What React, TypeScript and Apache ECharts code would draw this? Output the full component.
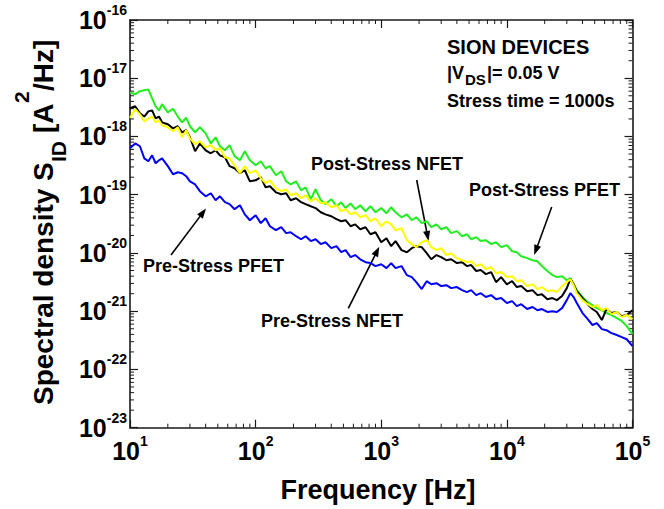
import React, { useEffect, useRef } from 'react';
import * as echarts from 'echarts';

const FONT = '"Liberation Sans", Arial, Helvetica, sans-serif';

// Frequency [Hz]
const freq = [
  10, 11, 12, 13, 14, 15, 16, 17, 18, 20, 22, 24, 26, 28, 30, 33, 36, 40, 44, 48, 52, 57, 62, 68, 75, 82, 90,
  100, 110, 120, 130, 145, 160, 175, 190, 210, 230, 250, 275, 300, 330, 360, 400, 440, 480, 520, 570, 620, 680, 750, 820, 900,
  1000, 1100, 1200, 1300, 1450, 1600, 1750, 1900, 2100, 2300, 2500, 2750, 3000, 3300, 3600, 4000, 4400, 4800, 5200, 5700, 6200, 6800, 7500, 8200, 9000,
  10000, 11000, 12000, 13000, 14500, 16000, 17500, 19000, 21000, 23000, 25000, 27500, 30000, 32000, 34000, 36000, 40000, 44000, 48000, 52000, 57000, 62000, 68000, 75000, 82000, 90000, 100000,
];

// Spectral density S_ID [A^2/Hz]
// Post-Stress PFET (green)
const postStressPfet = [
  5.7e-18, 5.3e-18, 6.0e-18, 6.2e-18, 6.4e-18, 4.5e-18, 3.3e-18, 2.8e-18, 3.6e-18, 2.6e-18, 3.0e-18, 2.2e-18, 1.75e-18, 2.1e-18, 1.5e-18, 1.18e-18, 1.44e-18, 1.13e-18, 7.6e-19, 9.7e-19, 6.8e-19, 5.8e-19, 7.1e-19, 4.6e-19, 3.9e-19, 5.6e-19, 3.9e-19,
  3.2e-19, 3.75e-19, 2.85e-19, 3.1e-19, 2.16e-19, 2.53e-19, 1.7e-19, 1.5e-19, 1.7e-19, 1.19e-19, 1.34e-19, 8.4e-20, 1.24e-19, 8.1e-20, 6.9e-20, 8.4e-20, 6.35e-20, 7.4e-20, 5.9e-20, 7.1e-20, 5.65e-20, 6.6e-20, 5.2e-20, 6.35e-20, 5.0e-20,
  5.9e-20, 4.8e-20, 6.1e-20, 5.0e-20, 4.1e-20, 4.6e-20, 3.65e-20, 4.1e-20, 3.25e-20, 3.5e-20, 2.77e-20, 3.1e-20, 2.56e-20, 2.77e-20, 2.19e-20, 2.37e-20, 1.94e-20, 2.1e-20, 1.72e-20, 1.87e-20, 1.6e-20, 1.66e-20, 1.42e-20, 1.53e-20, 1.26e-20,
  1.36e-20, 1.07e-20, 1.03e-20, 8.8e-21, 8.15e-21, 7.5e-21, 7.2e-21, 5.95e-21, 4.9e-21, 4.2e-21, 3.85e-21, 4.0e-21, 3.4e-21, 3.7e-21, 2.9e-21, 2.3e-21, 1.75e-21, 1.43e-21, 1.27e-21, 1.13e-21, 1.04e-21, 9.3e-22, 8.6e-22, 7.6e-22, 6.8e-22, 5.55e-22, 4.05e-22,
];

// Post-Stress NFET (yellow)
const postStressNfet = [
  2.1e-18, 2.93e-18, 2.4e-18, 1.82e-18, 2.05e-18, 2.2e-18, 1.75e-18, 1.9e-18, 1.56e-18, 1.44e-18, 1.23e-18, 1.44e-18, 9.7e-19, 1.28e-18, 9.3e-19, 7.35e-19, 8.3e-19, 6.5e-19, 7.1e-19, 5.8e-19, 6.3e-19, 4.4e-19, 4.2e-19, 3.2e-19, 2.34e-19, 3.1e-19, 2.34e-19,
  2.63e-19, 1.92e-19, 1.58e-19, 1.77e-19, 1.29e-19, 1.15e-19, 1.24e-19, 9.8e-20, 1.06e-19, 8.7e-20, 9.8e-20, 7.7e-20, 8.7e-20, 7.1e-20, 7.4e-20, 6.1e-20, 6.6e-20, 5.2e-20, 5.65e-20, 4.6e-20, 5.0e-20, 4.1e-20, 4.45e-20, 3.5e-20, 3.95e-20,
  2.88e-20, 3.5e-20, 3.1e-20, 2.46e-20, 2.66e-20, 1.66e-20, 1.42e-20, 1.26e-20, 1.53e-20, 1.66e-20, 1.26e-20, 1.12e-20, 1.21e-20, 9.2e-21, 9.9e-21, 8.15e-21, 7.5e-21, 6.95e-21, 7.2e-21, 5.95e-21, 6.4e-21, 5.3e-21, 5.7e-21, 4.5e-21, 4.7e-21,
  3.85e-21, 4.0e-21, 3.28e-21, 3.4e-21, 2.7e-21, 2.9e-21, 2.4e-21, 2.6e-21, 2.21e-21, 2.3e-21, 2.13e-21, 2.7e-21, 3.15e-21, 3.55e-21, 2.8e-21, 2.04e-21, 1.55e-21, 1.32e-21, 1.18e-21, 1.27e-21, 1.04e-21, 1.13e-21, 8.9e-22, 9.7e-22, 7.9e-22, 8.6e-22, 7.3e-22,
];

// Pre-Stress NFET (black)
const preStressNfet = [
  3.05e-18, 3.3e-18, 2.5e-18, 2.2e-18, 2.7e-18, 2.8e-18, 2.05e-18, 2.2e-18, 1.75e-18, 1.62e-18, 1.38e-18, 1.5e-18, 1.18e-18, 1.28e-18, 9.7e-19, 5.6e-19, 7.6e-19, 5.8e-19, 5.15e-19, 5.8e-19, 4.75e-19, 4.4e-19, 3.1e-19, 2.85e-19, 2.34e-19, 2.63e-19, 1.7e-19,
  1.77e-19, 2.0e-19, 1.34e-19, 1.4e-19, 1.1e-19, 1.02e-19, 1.06e-19, 8.05e-20, 8.7e-20, 7.45e-20, 6.9e-20, 6.35e-20, 5.9e-20, 5.0e-20, 4.6e-20, 4.27e-20, 3.8e-20, 3.5e-20, 3.65e-20, 2.88e-20, 3.1e-20, 2.56e-20, 2.77e-20, 2.1e-20, 2.27e-20,
  1.53e-20, 1.79e-20, 1.31e-20, 1.6e-20, 1.12e-20, 1.03e-20, 1.21e-20, 1.31e-20, 1.26e-20, 9.9e-21, 7.8e-21, 9.2e-21, 8.5e-21, 7.5e-21, 7.8e-21, 6.7e-21, 6.95e-21, 5.95e-21, 6.2e-21, 4.9e-21, 5.1e-21, 4.33e-21, 4.7e-21, 3.15e-21, 3.85e-21,
  2.9e-21, 3.28e-21, 2.6e-21, 2.7e-21, 2.21e-21, 2.3e-21, 1.89e-21, 1.96e-21, 1.61e-21, 1.68e-21, 1.55e-21, 1.82e-21, 2.49e-21, 3.55e-21, 2.9e-21, 2.21e-21, 1.68e-21, 1.32e-21, 1.09e-21, 9.7e-22, 7.05e-22, 1.09e-21, 9.3e-22, 9.7e-22, 8.2e-22, 8.6e-22, 1.04e-21,
];

// Pre-Stress PFET (blue)
const preStressPfet = [
  6.3e-19, 7.6e-19, 6.8e-19, 4.2e-19, 3.75e-19, 4.75e-19, 3.47e-19, 3.9e-19, 4.2e-19, 3.1e-19, 2.25e-19, 2.43e-19, 2.34e-19, 2.08e-19, 1.7e-19, 1.5e-19, 1.15e-19, 9.4e-20, 1.06e-19, 8.05e-20, 9.4e-20, 7.45e-20, 6.9e-20, 5.65e-20, 6.6e-20, 4.6e-20, 3.65e-20,
  4.45e-20, 3.25e-20, 3.95e-20, 2.88e-20, 2.46e-20, 2.77e-20, 2.19e-20, 2.27e-20, 1.94e-20, 1.72e-20, 1.94e-20, 1.6e-20, 1.72e-20, 1.42e-20, 1.53e-20, 1.21e-20, 1.31e-20, 1.03e-20, 1.12e-20, 8.5e-21, 9.2e-21, 7.8e-21, 6.95e-21, 6.7e-21, 5.95e-21,
  6.4e-21, 5.5e-21, 6.7e-21, 5.5e-21, 5.95e-21, 4.16e-21, 3.85e-21, 3.15e-21, 2.4e-21, 3.28e-21, 2.9e-21, 3.03e-21, 2.7e-21, 2.8e-21, 2.49e-21, 2.6e-21, 2.3e-21, 2.13e-21, 2.3e-21, 1.89e-21, 2.04e-21, 1.75e-21, 1.89e-21, 1.61e-21, 1.68e-21,
  1.38e-21, 1.49e-21, 1.22e-21, 1.32e-21, 1.09e-21, 1.18e-21, 1.04e-21, 1.09e-21, 9.7e-22, 1.0e-21, 9.7e-22, 1.13e-21, 1.55e-21, 2.04e-21, 1.75e-21, 1.38e-21, 9.3e-22, 7.3e-22, 5.8e-22, 6.25e-22, 4.93e-22, 4.73e-22, 4.2e-22, 3.9e-22, 3.6e-22, 3.3e-22, 2.52e-22,
];

// ECharts' log axis fails with very small explicit min/max, so the y axis runs in units of 1e-23 A^2/Hz
const Y_UNIT_EXP = -23;
const Y_UNIT = 1e-23;
const X_MIN = 10;
const X_MAX = 1e5;
const Y_MIN = 1; // = 1e-23 A^2/Hz
const Y_MAX = 1e7; // = 1e-16 A^2/Hz
const xDecades = [10, 100, 1000, 10000];
const yDecades = [1, 10, 100, 1000, 10000, 100000, 1000000];
const minorMultipliers = [2, 3, 4, 5, 6, 7, 8, 9];

const annotations = [
  { text: 'Post-Stress NFET', x: 311, y: 164 },
  { text: 'Post-Stress PFET', x: 469, y: 190 },
  { text: 'Pre-Stress PFET', x: 143, y: 266 },
  { text: 'Pre-Stress NFET', x: 261, y: 321 },
];

// arrow: [startX, startY, tipX, tipY]
const arrows = [
  [416.7, 180, 428.5, 241],
  [551.7, 207, 534.2, 255],
  [171, 255, 206, 208.5],
  [348.3, 308.3, 379.3, 246.7],
];

const AXIS_COLOR = '#1a1a1a';

function buildArrow(a: number[]) {
  const [sx, sy, tx, ty] = a;
  const dx = tx - sx;
  const dy = ty - sy;
  const len = Math.sqrt(dx * dx + dy * dy);
  const ux = dx / len;
  const uy = dy / len;
  const headL = 10;
  const headW = 3.6;
  const bx = tx - ux * headL;
  const by = ty - uy * headL;
  const px = -uy * headW;
  const py = ux * headW;
  return [
    {
      type: 'line',
      shape: { x1: sx, y1: sy, x2: bx + ux * 2, y2: by + uy * 2 },
      style: { stroke: '#000', lineWidth: 1.6 },
      silent: true,
    },
    {
      type: 'polygon',
      shape: { points: [[tx, ty], [bx + px, by + py], [bx - px, by - py]] },
      style: { fill: '#000' },
      silent: true,
    },
  ];
}

function textEl(text: string, x: number, y: number, size: number, extra: any = {}) {
  return {
    type: 'text',
    x,
    y,
    silent: true,
    style: {
      text,
      fontSize: size,
      fontWeight: 'bold',
      fontFamily: FONT,
      fill: '#000',
      align: extra.align || 'left',
      textAlign: extra.align || 'left',
      verticalAlign: 'middle',
      textVerticalAlign: 'middle',
    },
  };
}

export default function App() {
  const ref = useRef<HTMLDivElement>(null);

  useEffect(() => {
    if (!ref.current) return;
    const chart = echarts.init(ref.current, null, { renderer: 'svg' });

    const xMinor: number[][] = [];
    xDecades.forEach((d) => minorMultipliers.forEach((m) => xMinor.push([d * m, Y_MIN])));
    const yMinor: number[][] = [];
    yDecades.forEach((d) => minorMultipliers.forEach((m) => yMinor.push([X_MIN, d * m])));

    const richLabel = {
      b: { fontSize: 25, fontWeight: 'bold', fontFamily: FONT, color: '#000', lineHeight: 34 },
      s: { fontSize: 14, fontWeight: 'bold', fontFamily: FONT, color: '#000', lineHeight: 16, verticalAlign: 'top' },
    };

    const axisBase = {
      type: 'log',
      logBase: 10,
      axisLine: { show: true, onZero: false, lineStyle: { color: AXIS_COLOR, width: 1.6 } },
      axisTick: { show: true, inside: true, length: 8, lineStyle: { color: AXIS_COLOR, width: 1.2 } },
      minorTick: { show: false },
      splitLine: { show: false },
      minorSplitLine: { show: false },
    };

    const mkLine = (name: string, arr: number[], color: string) => ({
      name,
      type: 'line',
      data: freq.map((f, i) => [f, arr[i] / Y_UNIT]),
      showSymbol: false,
      symbol: 'none',
      lineStyle: { color, width: 2 },
      itemStyle: { color },
      silent: true,
      z: 3,
    });

    const tickStyle = { stroke: AXIS_COLOR, lineWidth: 1 };

    const option: any = {
      animation: false,
      backgroundColor: '#ffffff',
      grid: { left: 130, right: 31.5, top: 20, bottom: 81.3, containLabel: false },
      xAxis: [
        {
          ...axisBase,
          position: 'bottom',
          min: X_MIN,
          max: X_MAX,
          splitNumber: 4,
          axisLabel: {
            show: true,
            margin: 6,
            formatter: (v: number) => `{b|10}{s|${Math.round(Math.log10(v))}}`,
            rich: richLabel,
          },
        },
        {
          ...axisBase,
          position: 'top',
          min: X_MIN,
          max: X_MAX,
          splitNumber: 4,
          axisLabel: { show: false },
        },
      ],
      yAxis: [
        {
          ...axisBase,
          position: 'left',
          min: Y_MIN,
          max: Y_MAX,
          splitNumber: 7,
          axisLabel: {
            show: true,
            margin: 3,
            formatter: (v: number) => `{b|10}{s|${Math.round(Math.log10(v)) + Y_UNIT_EXP}}`,
            rich: richLabel,
          },
        },
        {
          ...axisBase,
          position: 'right',
          min: Y_MIN,
          max: Y_MAX,
          splitNumber: 7,
          axisLabel: { show: false },
        },
      ],
      series: [
        {
          type: 'custom',
          coordinateSystem: 'cartesian2d',
          xAxisIndex: 0,
          yAxisIndex: 0,
          silent: true,
          clip: false,
          data: xMinor,
          renderItem: (_p: any, api: any) => {
            const v = api.value(0);
            const b = api.coord([v, Y_MIN]);
            const t = api.coord([v, Y_MAX]);
            return {
              type: 'group',
              children: [
                { type: 'line', shape: { x1: b[0], y1: b[1], x2: b[0], y2: b[1] - 4 }, style: tickStyle },
                { type: 'line', shape: { x1: t[0], y1: t[1], x2: t[0], y2: t[1] + 4 }, style: tickStyle },
              ],
            };
          },
        },
        {
          type: 'custom',
          coordinateSystem: 'cartesian2d',
          xAxisIndex: 0,
          yAxisIndex: 0,
          silent: true,
          clip: false,
          data: yMinor,
          renderItem: (_p: any, api: any) => {
            const v = api.value(1);
            const l = api.coord([X_MIN, v]);
            const r = api.coord([X_MAX, v]);
            return {
              type: 'group',
              children: [
                { type: 'line', shape: { x1: l[0], y1: l[1], x2: l[0] + 4, y2: l[1] }, style: tickStyle },
                { type: 'line', shape: { x1: r[0], y1: r[1], x2: r[0] - 4, y2: r[1] }, style: tickStyle },
              ],
            };
          },
        },
        mkLine('Post-Stress PFET', postStressPfet, '#22ee22'),
        mkLine('Pre-Stress NFET', preStressNfet, '#000000'),
        mkLine('Post-Stress NFET', postStressNfet, '#ffff00'),
        mkLine('Pre-Stress PFET', preStressPfet, '#0000ff'),
      ],
      graphic: [
        {
          type: 'group',
          x: 0,
          y: 405,
          rotation: Math.PI / 2,
          silent: true,
          children: [
            textEl('Spectral density S', 0, 43.5, 28),
            textEl('ID', 243, 58.5, 21),
            textEl('[A', 272, 43.5, 28),
            textEl('2', 302, 21.5, 21),
            textEl('/Hz]', 314, 43.5, 28),
          ],
        },
        textEl('Frequency [Hz]', 378, 490, 27, { align: 'center' }),
        textEl('SION DEVICES', 447, 46.5, 20),
        textEl('|V', 447, 72.5, 18),
        textEl('DS', 465, 79.5, 15),
        textEl('|= 0.05 V', 487, 72.5, 18),
        textEl('Stress time = 1000s', 447, 101, 18),
        ...annotations.map((a) => textEl(a.text, a.x, a.y, 18)),
        ...arrows.flatMap((a) => buildArrow(a)),
      ],
    };

    chart.setOption(option);
    return () => chart.dispose();
  }, []);

  return (
    <div
      ref={ref}
      style={{ position: 'fixed', left: 0, top: 0, width: 664, height: 509, background: '#fff' }}
    />
  );
}
